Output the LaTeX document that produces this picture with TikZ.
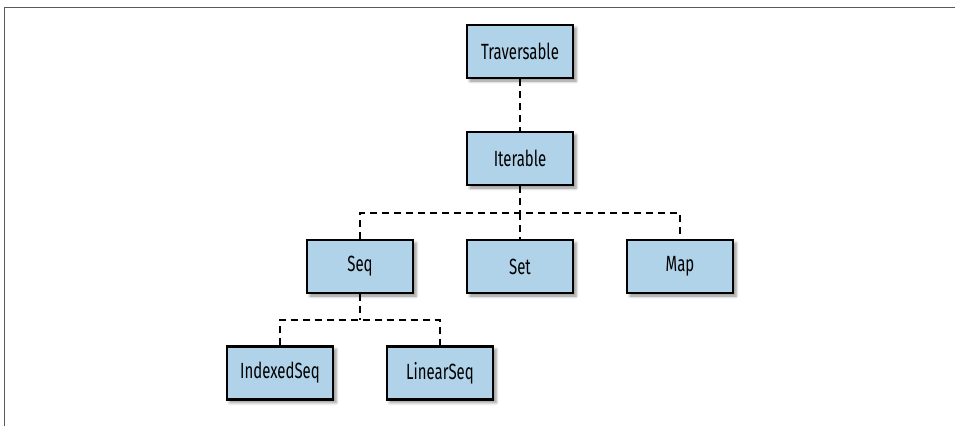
\documentclass[tikz,border=0pt]{standalone}
\usepackage{fontspec}
\setmainfont[FakeStretch=0.68]{Fira Sans}
\usetikzlibrary{shadows.blur}
\definecolor{boxblue}{RGB}{176,211,233}
\definecolor{framegray}{RGB}{90,90,90}
\tikzset{
  classbox/.style={draw=black, line width=2.2pt, fill=boxblue,
    minimum width=106pt, minimum height=53pt, inner sep=0pt,
    font=\fontsize{22}{26}\selectfont,
    blur shadow={shadow xshift=3pt, shadow yshift=-3pt, shadow blur radius=3pt, shadow opacity=45}},
  link/.style={line width=2.4pt, dash pattern=on 7pt off 5pt}
}
\begin{document}
\begin{tikzpicture}[x=1pt,y=-1pt]
      \useasboundingbox (0,0) rectangle (955,426);
      % frame
      \draw[framegray, line width=1.5pt] (4.5,426) -- (4.5,7.5) -- (955,7.5);
      % classes
      \node[classbox] (trav) at (520,51.5) {Traversable};
      \node[classbox] (iter) at (520,158.5) {Iterable};
      \node[classbox] (seq) at (360,266.5) {Seq};
      \node[classbox] (set) at (520,266.5) {Set};
      \node[classbox] (map) at (680,266.5) {Map};
      \node[classbox] (idx) at (280,373) {IndexedSeq};
      \node[classbox] (lin) at (440,373) {LinearSeq};
      % links
      \coordinate (iterbus) at (520,213);
      \coordinate (seqbus) at (360,320);
      \draw[link] (trav) -- (iter);
      \draw[link] (iter) -- (iterbus);
      \draw[link] (seq.north) |- (iterbus) -| (map.north);
      \draw[link] (iterbus) -- (set.north);
      \draw[link] (seq) -- (seqbus);
      \draw[link] (idx.north) |- (seqbus) -| (lin.north);
    \end{tikzpicture}
\end{document}
